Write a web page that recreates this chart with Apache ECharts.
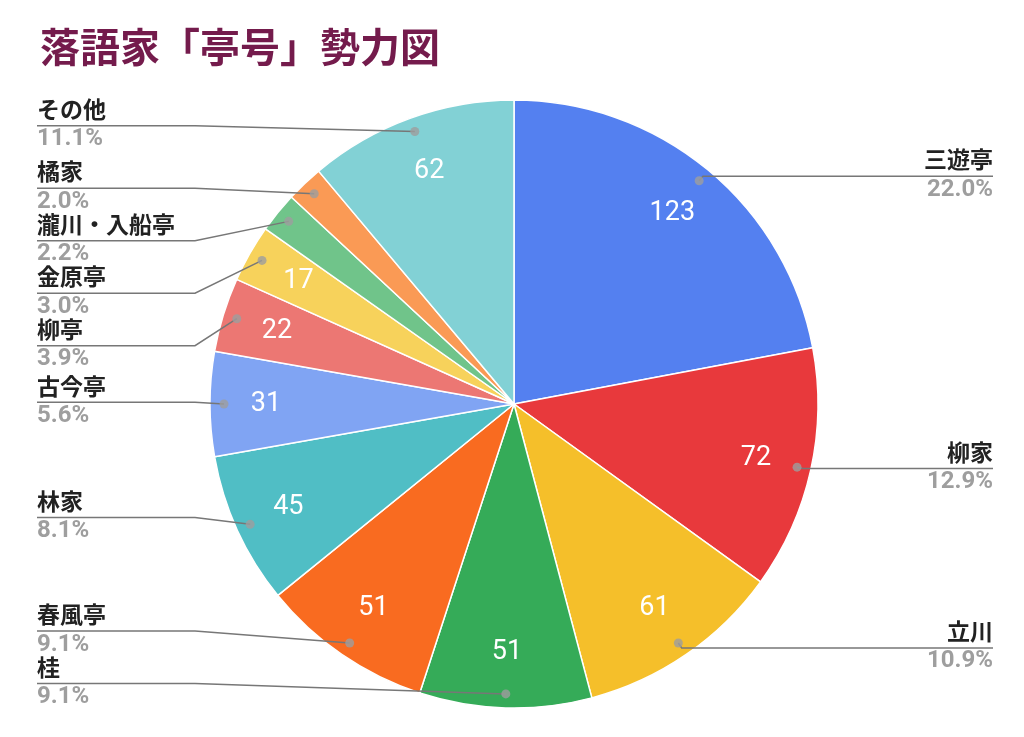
<!DOCTYPE html>
<html lang="ja">
<head>
    <meta charset="UTF-8">
    <title>落語家「亭号」勢力図</title>
    <script src="https://cdn.jsdelivr.net/npm/echarts@6/dist/echarts.min.js"></script>
    <style>
        html, body { margin: 0; padding: 0; background: #fff; }
    </style>
</head>
<body>
<div id="main" style="width:1024px;height:737px;"></div>
<script type="text/javascript">
    // データ
    var names = ['三遊亭', '柳家', '立川', '桂', '春風亭', '林家', '古今亭', '柳亭', '金原亭', '瀧川・入船亭', '橘家', 'その他'];
    var counts = [123, 72, 61, 51, 51, 45, 31, 22, 17, 12, 11, 62];
    var colors = ['#5480f0', '#e8393c', '#f5bf2a', '#35ab58', '#f96b20', '#50bec5',
                  '#80a4f3', '#ec7773', '#f7d25b', '#70c48a', '#fa9a55', '#82d1d5'];

    var total = counts.reduce(function (a, b) { return a + b; }, 0);
    var fontFamily = 'Roboto, "Noto Sans CJK JP", sans-serif';

    var pieData = names.map(function (n, i) {
        return { name: n, value: counts[i], itemStyle: { color: colors[i] } };
    });
    var ghostData = names.map(function (n, i) {
        return { name: n, value: counts[i] };
    });
    // 引き出し線の起点の点（極座標: [半径比, 角度の値]）
    var dotData = [];
    var acc = 0;
    for (var i = 0; i < counts.length; i++) {
        dotData.push([0.954, acc + counts[i] / 2]);
        acc += counts[i];
    }

    var myChart = echarts.init(document.getElementById('main'));
    var R = 304;
    var option = {
        animation: false,
        title: {
            text: '落語家「亭号」勢力図',
            left: 35,
            top: 22,
            textStyle: {
                fontSize: 40,
                fontWeight: 'bold',
                color: '#741b4c',
                fontFamily: '"Noto Sans CJK JP", sans-serif'
            }
        },
        polar: {
            center: [514, 404],
            radius: R
        },
        angleAxis: {
            type: 'value',
            min: 0,
            max: total,
            startAngle: 90,
            clockwise: true,
            show: false
        },
        radiusAxis: {
            type: 'value',
            min: 0,
            max: 1,
            show: false
        },
        series: [
            {
                // 本体
                type: 'pie',
                silent: true,
                center: [514, 404],
                radius: R,
                startAngle: 90,
                z: 1,
                label: { show: false },
                labelLine: { show: false },
                itemStyle: { borderColor: '#fff', borderWidth: 1.5 },
                data: pieData
            },
            {
                // 値ラベル（内側）。細いスライスは表示しない
                type: 'pie',
                silent: true,
                center: [514, 404],
                radius: [186, R],
                startAngle: 90,
                z: 3,
                itemStyle: { color: 'rgba(0,0,0,0)', borderWidth: 0 },
                label: {
                    show: true,
                    position: 'inside',
                    formatter: function (p) {
                        return p.value / total < 0.025 ? '' : String(p.value);
                    },
                    color: '#fff',
                    fontSize: 27,
                    fontFamily: fontFamily
                },
                labelLine: { show: false },
                data: ghostData
            },
            {
                // 外側ラベルと引き出し線
                type: 'pie',
                silent: true,
                left: 3,
                right: -3,
                top: 0,
                bottom: 27,
                center: [511, 404],
                radius: 290,
                startAngle: 90,
                z: 4,
                itemStyle: { color: 'rgba(0,0,0,0)', borderWidth: 0 },
                label: {
                    show: true,
                    position: 'outer',
                    alignTo: 'edge',
                    edgeDistance: 34,
                    formatter: function (p) {
                        return '{n|' + p.name + '}\n{p|' + (p.value / total * 100).toFixed(1) + '%}';
                    },
                    rich: {
                        n: {
                            fontSize: 23,
                            fontWeight: 'bold',
                            color: '#222',
                            lineHeight: 27,
                            fontFamily: fontFamily
                        },
                        p: {
                            fontSize: 24,
                            fontWeight: 'bold',
                            color: '#9e9e9e',
                            lineHeight: 27,
                            fontFamily: fontFamily
                        }
                    }
                },
                labelLine: {
                    show: true,
                    length: 6,
                    length2: 10,
                    lineStyle: { color: '#777', width: 1.5 }
                },
                labelLayout: function (params) {
                    var isLeft = params.labelRect.x < myChart.getWidth() / 2;
                    var points = params.labelLinePoints;
                    if (!points) return {};
                    if (isLeft) {
                        points[2][0] = params.labelRect.x;
                        points[1][0] = params.labelRect.x + 158;
                    } else {
                        points[2][0] = params.labelRect.x + params.labelRect.width;
                    }
                    return { labelLinePoints: points };
                },
                data: ghostData
            },
            {
                // 引き出し線の点
                type: 'scatter',
                coordinateSystem: 'polar',
                silent: true,
                z: 5,
                symbolSize: 9,
                itemStyle: { color: '#9e9e9e' },
                data: dotData
            }
        ]
    };
    myChart.setOption(option);
</script>
</body>
</html>
